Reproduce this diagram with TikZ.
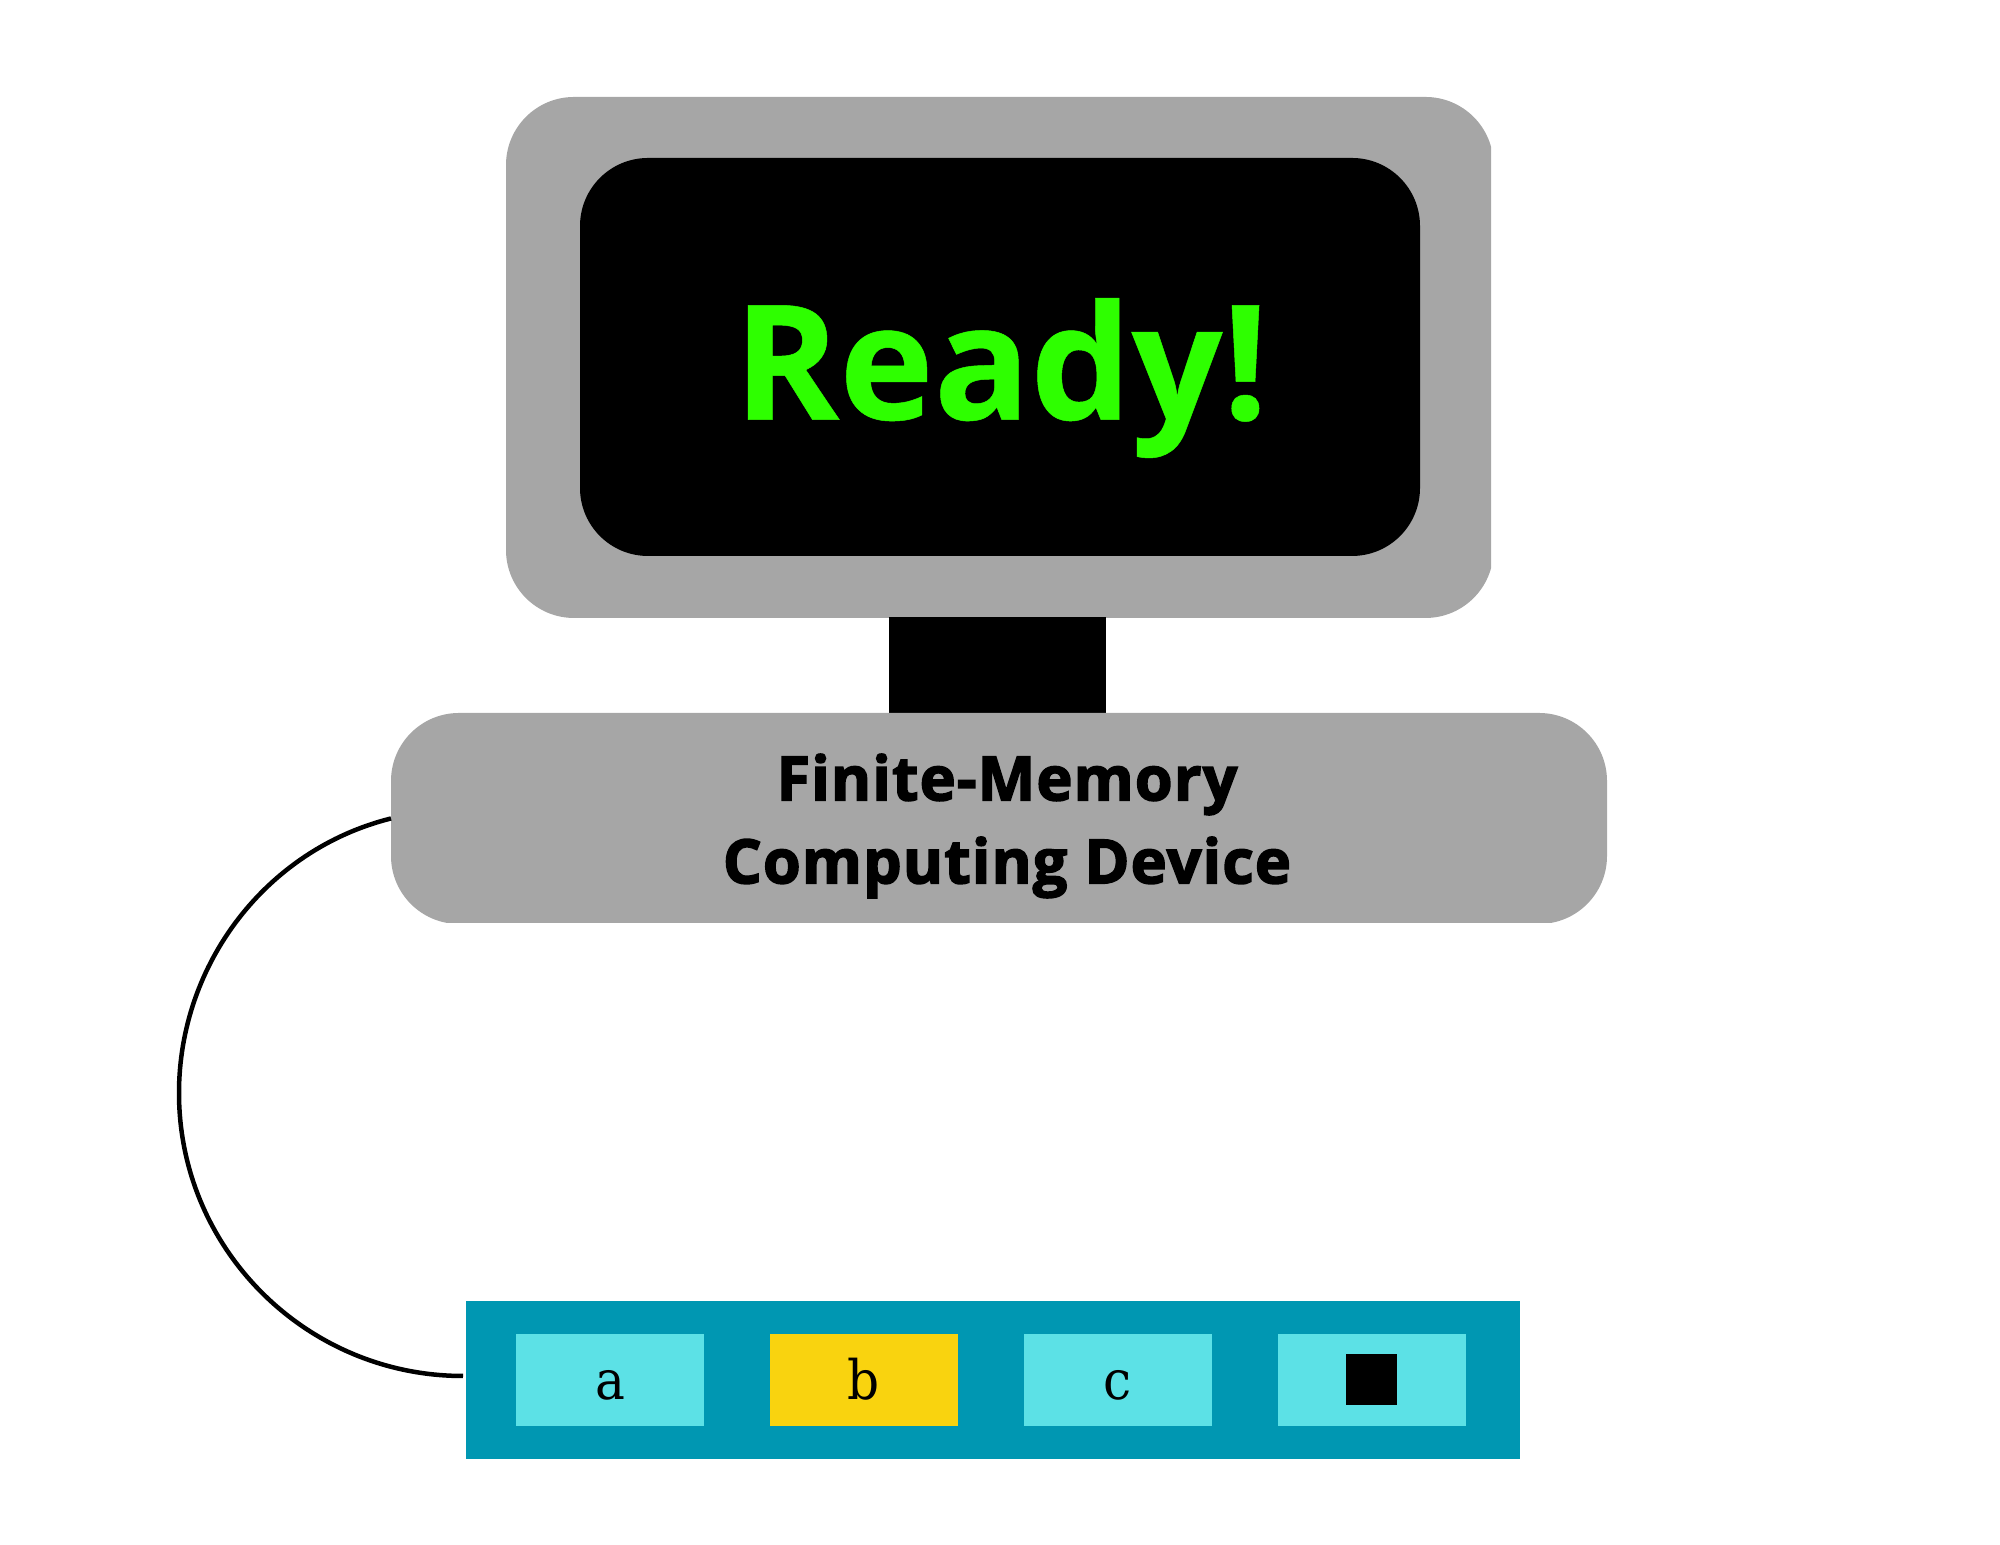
\documentclass[tikz,border=0pt]{standalone}
\usepackage{fontspec}
\usepackage{xcolor}
\usetikzlibrary{positioning}
\newfontfamily\screenfont{Open Sans}[BoldFont={* Bold},BoldFeatures={FakeBold=0.3}]
\newfontfamily\devicefont{Open Sans}[BoldFont={* Bold},BoldFeatures={FakeBold=2.5,LetterSpace=1.8}]
\newfontfamily\cellfont{DejaVu Serif}[FakeStretch=0.92]
\definecolor{casegray}{HTML}{A6A6A6}
\definecolor{readygreen}{HTML}{2EFF00}
\definecolor{tapeteal}{HTML}{0097B2}
\definecolor{cellcyan}{HTML}{5CE1E6}
\definecolor{headyellow}{HTML}{F9D30F}
\tikzset{
  panel/.style={fill=#1, inner sep=0pt, outer sep=0pt, rounded corners=0.68cm},
  block/.style={fill=#1, inner sep=0pt, outer sep=0pt},
  tapecell/.style={block=#1, minimum width=1.885cm, minimum height=0.92cm, text height=0.4cm, text depth=0cm, font=\cellfont\fontsize{15.5}{18}\selectfont},
}
\begin{document}
\begin{tikzpicture}
  \useasboundingbox (0,0) rectangle (20,15.45);

  \begin{scope}
  \clip (0,0) rectangle (14.91,15.45);
  \node[panel=casegray, minimum width=9.875cm, minimum height=5.21cm] (monitor) at (9.9975,11.875) {};
  \end{scope}
  \node[panel=black, minimum width=8.4cm, minimum height=3.98cm] (screen) at (10,11.88) {};
  \node[color=readygreen, font=\screenfont\bfseries\fontsize{45.5}{50}\selectfont] (ready) at (10.01,11.67) {Ready!};

  \node[block=black, minimum width=2.17cm, minimum height=0.96cm] (neck) at (9.975,8.8) {};
  \begin{scope}
  \clip (0,6.225) rectangle (20,15.45);
  \node[panel=casegray, minimum width=12.16cm, minimum height=2.11cm] (device) at (9.99,7.265) {};
  \end{scope}
  \node[font=\devicefont\bfseries\fontsize{17.4}{23.6}\selectfont, align=center] (devicelabel) at (10.07,7.19) {Finite-Memory\\Computing Device};

  \node[block=tapeteal, minimum width=10.54cm, minimum height=1.58cm] (tape) at (9.93,1.645) {};
  \node[tapecell=cellcyan] (cella) at (6.1,1.65) {a};
  \node[tapecell=headyellow] (cellb) at (8.64,1.65) {b};
  \node[tapecell=cellcyan] (cellc) at (11.18,1.65) {c};
  \node[tapecell=cellcyan] (cellblank) at (13.72,1.65) {};
  \node[block=black, minimum size=0.51cm] (blank) at (13.71,1.65) {};

  \coordinate (wirebend) at (1.79,4.52);
  \coordinate (wireend) at (4.63,1.69);
  \draw[line width=0.045cm] (device.west) to[out=194,in=90,looseness=0.95] (wirebend) to[out=270,in=180] (wireend);

\end{tikzpicture}
\end{document}
